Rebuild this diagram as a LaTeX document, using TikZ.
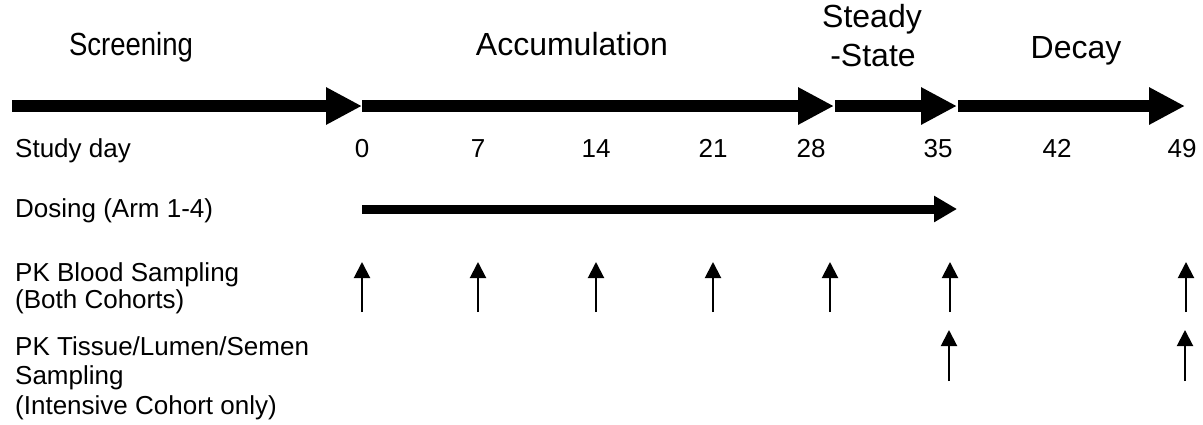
\documentclass[tikz,border=0pt]{standalone}
\usepackage{fontspec}
\setmainfont{Liberation Sans}
\usetikzlibrary{arrows.meta}

\begin{document}
\begin{tikzpicture}[x=1pt,y=-1pt,
  phase/.style={font=\fontsize{32}{32}\selectfont, inner sep=0pt, anchor=base},
  rowlabel/.style={font=\fontsize{26}{28}\selectfont, inner sep=0pt, anchor=base west, align=left},
  daynum/.style={font=\fontsize{26}{28}\selectfont, inner sep=0pt, anchor=base},
  period/.style={line width=12pt, -{Triangle[length=36pt,width=35pt]}},
  dosebar/.style={line width=9pt, -{Triangle[length=23pt,width=25pt]}},
  sample/.style={line width=2pt, -{Triangle[length=16pt,width=16pt]}}
]
\useasboundingbox (0,0) rectangle (1203,424);

% phase headings
\node[phase] (screening) at (131,55) {\scalebox{0.86}[1]{Screening}};
\node[phase] (accum) at (572,55) {Accumulation};
\node[phase] (steady) at (872,27) {Steady};
\node[phase] (state) at (873,66) {-State};
\node[phase] (decay) at (1076,58) {Decay};

% timeline break points
\coordinate (start) at (12,106);
\coordinate (p0) at (362,106);
\coordinate (p28) at (834,106);
\coordinate (p35) at (957,106);
\coordinate (p49) at (1185,106);

\draw[period] (start) -- (p0);
\draw[period] (p0) -- (p28);
\draw[period] ([xshift=1pt]p28) -- (p35);
\draw[period] ([xshift=1pt]p35) -- (p49);

% study day row
\node[rowlabel] (studyday) at (15,157) {Study day};
\foreach \d/\x in {0/362, 7/478, 14/596, 21/713, 28/811, 35/938, 42/1057, 49/1182}
  \node[daynum] (day\d) at (\x,157) {\d};

% dosing
\node[rowlabel] (dosing) at (15,217) {Dosing (Arm 1-4)};
\coordinate (doseA) at (362,209);
\coordinate (doseB) at (957,209);
\draw[dosebar] (doseA) -- (doseB);

% PK blood sampling (base anchor sits on the last line)
\node[rowlabel, font=\fontsize{26}{26.5}\selectfont] (blood) at (15,308)
  {PK Blood Sampling\\(Both Cohorts)};
\foreach \i/\x in {1/362, 2/478, 3/596, 4/713, 5/830, 6/950, 7/1186} {
  \coordinate (bl\i) at (\x,312);
  \coordinate (bh\i) at (\x,262);
  \draw[sample] (bl\i) -- (bh\i);
}

% PK tissue sampling
\node[rowlabel, font=\fontsize{26}{29.5}\selectfont] (tissue) at (15,414)
  {PK Tissue/Lumen/Semen\\Sampling\\(Intensive Cohort only)};
\foreach \i/\x in {1/949, 2/1185} {
  \coordinate (tl\i) at (\x,381);
  \coordinate (th\i) at (\x,330);
  \draw[sample] (tl\i) -- (th\i);
}
\end{tikzpicture}
\end{document}
